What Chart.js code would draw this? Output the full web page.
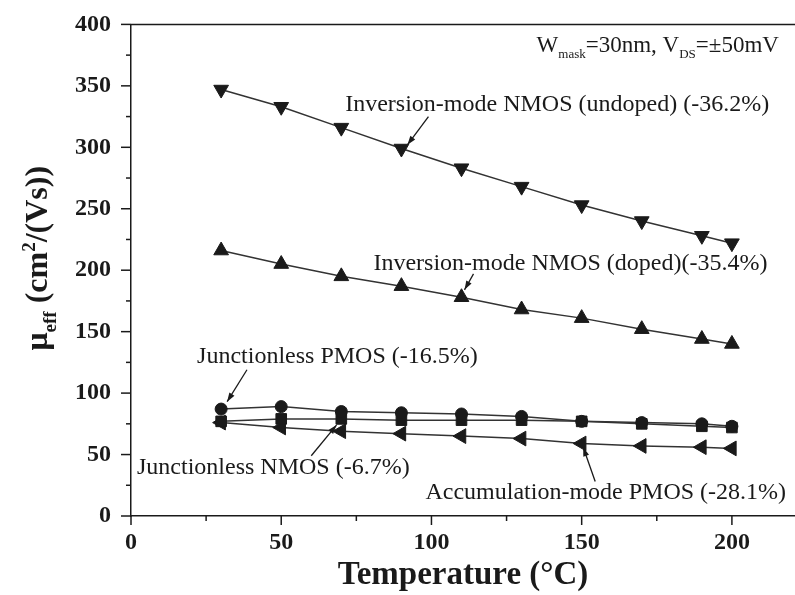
<!DOCTYPE html>
<html>
<head>
<meta charset="utf-8">
<script src="https://cdn.jsdelivr.net/npm/chart.js@4.4.0/dist/chart.umd.min.js"></script>
<style>
html, body { margin: 0; padding: 0; background: #fff; }
#wrap { width: 795px; height: 595px; }
</style>
</head>
<body>
<div id="wrap"><canvas id="chart" width="795" height="595"></canvas></div>
<script>
// temperatures (°C) and effective mobility (cm²/Vs)
const temps = [30, 50, 70, 90, 110, 130, 150, 170, 190, 200];
const invUndoped = [347, 333, 316, 299, 283, 268, 253, 240, 228, 222];
const invDoped = [216, 205, 195, 187, 178, 168, 161, 152, 144, 140];
const jlPmos = [87, 89, 85, 84, 83, 81, 77, 76, 75, 73];
const jlNmos = [77, 79, 79, 78, 78, 78, 77, 75, 73, 72];
const accPmos = [76, 72, 69, 67, 65, 63, 59, 57, 56, 55];

const xTicks = [0, 50, 100, 150, 200];
const yTicks = [0, 50, 100, 150, 200, 250, 300, 350, 400];

// callout labels and arrows, in data units
const notes = [
  { text: 'Inversion-mode NMOS (undoped) (-36.2%)', x: 71.3, y: 335 },
  { text: 'Inversion-mode NMOS (doped)(-35.4%)', x: 80.7, y: 205 },
  { text: 'Junctionless PMOS (-16.5%)', x: 22, y: 130 },
  { text: 'Junctionless NMOS (-6.7%)', x: 2, y: 39 },
  { text: 'Accumulation-mode PMOS (-28.1%)', x: 98, y: 19 }
];
const arrows = [
  { from: [99, 325], to: [92, 302] },
  { from: [114, 197], to: [111, 184] },
  { from: [38.6, 119], to: [32, 93] },
  { from: [60, 49], to: [68.4, 74] },
  { from: [154.5, 28], to: [150.5, 56] }
];

const serif = '"Liberation Serif", "Times New Roman", serif';
const ink = '#1a1a1a';

function toXY(x, y) {
  return x.map((v, i) => ({ x: v, y: y[i] }));
}

function series(data, style, rot, r) {
  return {
    data: toXY(temps, data),
    borderColor: '#333',
    borderWidth: 1.5,
    backgroundColor: ink,
    pointBorderColor: ink,
    pointBackgroundColor: ink,
    pointStyle: style,
    rotation: rot,
    pointRadius: r,
    pointBorderWidth: 1,
    tension: 0
  };
}

// draws runs of text with sub/superscript pieces
function richText(ctx, parts, x, y, size, weight) {
  let cx = x;
  parts.forEach(p => {
    const small = p.sub || p.sup;
    const fs = small ? Math.round(size * 0.58) : size;
    ctx.font = weight + ' ' + fs + 'px ' + serif;
    let dy = 0;
    if (p.sub) dy = size * 0.28;
    if (p.sup) dy = -size * 0.38;
    ctx.fillText(p.t, cx, y + dy);
    cx += ctx.measureText(p.t).width;
  });
  return cx - x;
}

function richWidth(ctx, parts, size, weight) {
  let w = 0;
  parts.forEach(p => {
    const fs = (p.sub || p.sup) ? Math.round(size * 0.58) : size;
    ctx.font = weight + ' ' + fs + 'px ' + serif;
    w += ctx.measureText(p.t).width;
  });
  return w;
}

const decorations = {
  id: 'decorations',
  afterDraw(chart) {
    const ctx = chart.ctx;
    const xs = chart.scales.x, ys = chart.scales.y;
    const area = chart.chartArea;
    ctx.save();
    ctx.strokeStyle = ink;
    ctx.fillStyle = ink;

    // top frame line
    ctx.lineWidth = 1.5;
    ctx.beginPath();
    ctx.moveTo(area.left, area.top);
    ctx.lineTo(area.right, area.top);
    ctx.stroke();

    // major and minor ticks, pointing outward
    for (let v = 0; v <= ys.max; v += 25) {
      const py = ys.getPixelForValue(v);
      const len = v % 50 === 0 ? 10 : 5;
      ctx.beginPath();
      ctx.moveTo(area.left - len, py);
      ctx.lineTo(area.left, py);
      ctx.stroke();
    }
    for (let v = 0; v <= xs.max; v += 25) {
      const px = xs.getPixelForValue(v);
      const len = v % 50 === 0 ? 9 : 5;
      ctx.beginPath();
      ctx.moveTo(px, area.bottom);
      ctx.lineTo(px, area.bottom + len);
      ctx.stroke();
    }

    // callout labels
    ctx.textBaseline = 'middle';
    ctx.textAlign = 'left';
    ctx.font = '24px ' + serif;
    notes.forEach(n => {
      ctx.fillText(n.text, xs.getPixelForValue(n.x), ys.getPixelForValue(n.y));
    });

    // arrows
    ctx.lineWidth = 1.3;
    arrows.forEach(a => {
      const x1 = xs.getPixelForValue(a.from[0]), y1 = ys.getPixelForValue(a.from[1]);
      const x2 = xs.getPixelForValue(a.to[0]), y2 = ys.getPixelForValue(a.to[1]);
      const ang = Math.atan2(y2 - y1, x2 - x1);
      ctx.beginPath();
      ctx.moveTo(x1, y1);
      ctx.lineTo(x2, y2);
      ctx.stroke();
      const hl = 9, hw = 3;
      ctx.beginPath();
      ctx.moveTo(x2, y2);
      ctx.lineTo(x2 - hl * Math.cos(ang) + hw * Math.sin(ang), y2 - hl * Math.sin(ang) - hw * Math.cos(ang));
      ctx.lineTo(x2 - hl * Math.cos(ang) - hw * Math.sin(ang), y2 - hl * Math.sin(ang) + hw * Math.cos(ang));
      ctx.closePath();
      ctx.fill();
    });

    // condition label, top right
    ctx.textBaseline = 'alphabetic';
    richText(ctx, [
      { t: 'W' }, { t: 'mask', sub: true }, { t: '=30nm, V' }, { t: 'DS', sub: true }, { t: '=\u00b150mV' }
    ], xs.getPixelForValue(135), 52, 23, 'normal');

    // y axis title, rotated
    const yParts = [
      { t: '\u03bc' }, { t: 'eff', sub: true }, { t: ' (cm' }, { t: '2', sup: true }, { t: '/(Vs))' }
    ];
    const tw = richWidth(ctx, yParts, 32, 'bold');
    ctx.translate(47, (area.top + area.bottom) / 2 - 12);
    ctx.rotate(-Math.PI / 2);
    richText(ctx, yParts, -tw / 2, 0, 32, 'bold');
    ctx.restore();
  }
};

new Chart(document.getElementById('chart'), {
  type: 'line',
  data: {
    datasets: [
      series(invUndoped, 'triangle', 180, 8.5),
      series(invDoped, 'triangle', 0, 8.5),
      series(jlPmos, 'circle', 0, 6),
      series(jlNmos, 'rect', 0, 7.5),
      series(accPmos, 'triangle', -90, 8.5)
    ]
  },
  options: {
    responsive: false,
    animation: false,
    devicePixelRatio: 1,
    layout: { autoPadding: false, padding: { top: 20, right: 0, left: 0, bottom: 0 } },
    plugins: {
      legend: { display: false },
      tooltip: { enabled: false }
    },
    scales: {
      x: {
        type: 'linear',
        min: 0,
        max: 221,
        afterFit(s) { s.height = 79; },
        afterBuildTicks(s) { s.ticks = xTicks.map(v => ({ value: v })); },
        ticks: {
          color: ink,
          font: { family: serif, size: 24, weight: 'bold' },
          padding: 3,
          maxRotation: 0,
          autoSkip: false
        },
        grid: { drawOnChartArea: false, tickLength: 9, tickColor: 'rgba(0,0,0,0)' },
        border: { color: ink, width: 1.5 },
        title: {
          display: true,
          text: 'Temperature (\u00b0C)',
          color: ink,
          font: { family: serif, size: 33, weight: 'bold' },
          padding: 0
        }
      },
      y: {
        min: 0,
        max: 400,
        afterFit(s) { s.width = 131; },
        afterBuildTicks(s) { s.ticks = yTicks.map(v => ({ value: v })); },
        ticks: {
          color: ink,
          font: { family: serif, size: 24, weight: 'bold' },
          padding: 10
        },
        grid: { drawOnChartArea: false, tickLength: 10, tickColor: 'rgba(0,0,0,0)' },
        border: { color: ink, width: 1.5 }
      }
    }
  },
  plugins: [decorations]
});
</script>
</body>
</html>
